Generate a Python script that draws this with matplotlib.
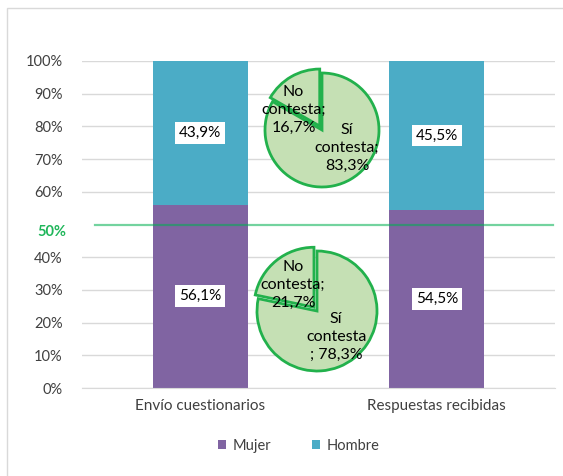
import matplotlib.pyplot as plt
from matplotlib.patches import Rectangle

# Colors
purple = "#8064A2"
teal = "#4BACC6"
pie_fill = "#C5E0B4"
pie_edge = "#22B14C"
green = "#00B050"
grid_color = "#D9D9D9"
text_color = "#404040"

plt.rcParams["font.family"] = ["Lato", "DejaVu Sans"]

# Data
categories = ["Envío cuestionarios", "Respuestas recibidas"]
mujer = [56.1, 54.5]
hombre = [43.9, 45.5]
mujer_labels = ["56,1%", "54,5%"]
hombre_labels = ["43,9%", "45,5%"]

pie_top_values = [16.7, 83.3]
pie_top_labels = ["No\ncontesta;\n16,7%", "Sí\ncontesta;\n83,3%"]
pie_bottom_values = [21.7, 78.3]
pie_bottom_labels = ["No\ncontesta;\n21,7%", "Sí\ncontesta\n; 78,3%"]

yticks = [0, 10, 20, 30, 40, 60, 70, 80, 90, 100]

W, H = 563, 476
fig = plt.figure(figsize=(W / 100, H / 100), dpi=100, facecolor="white")

# Outer chart border (left/top visible)
fig.patches.append(Rectangle((7 / W, -0.1), 1.2, 1 - 8 / H + 0.1, transform=fig.transFigure,
                             fill=False, edgecolor=grid_color, linewidth=1))

ax = fig.add_axes([82 / W, 88 / H, 473 / W, 327 / H])
x = range(len(categories))
b1 = ax.bar(x, mujer, width=0.4, color=purple, label="Mujer", zorder=2)
b2 = ax.bar(x, hombre, width=0.4, bottom=mujer, color=teal, label="Hombre", zorder=2)

ax.set_xlim(-0.5, 1.5)
ax.set_ylim(0, 100)
ax.set_yticks(yticks)
ax.set_yticklabels([f"{v}%" for v in yticks], fontsize=10.5, color=text_color)
ax.set_xticks(list(x))
ax.set_xticklabels(categories, fontsize=11, color=text_color)
ax.tick_params(axis="y", length=0, pad=14)
ax.tick_params(axis="x", length=0, pad=8)
ax.yaxis.grid(True, color=grid_color, linewidth=1, zorder=0)
ax.set_axisbelow(True)
for side in ["left", "right", "top"]:
    ax.spines[side].set_visible(False)
ax.spines["bottom"].set_color(grid_color)

# Value labels in white boxes
for i in x:
    for yv, txt in [(mujer[i] / 2, mujer_labels[i]), (mujer[i] + hombre[i] / 2, hombre_labels[i])]:
        ax.text(i, yv, txt, ha="center", va="center", fontsize=11, color="black", zorder=4,
                bbox=dict(boxstyle="square,pad=0.25", facecolor="white", edgecolor="none"))

# 50% reference line and label
ax.plot([-0.445, 1.49], [50, 50], color=green, alpha=0.55, linewidth=1.6, zorder=3, clip_on=False)
ax.text(-0.565, 47.6, "50%", ha="right", va="center", fontsize=10.5, fontweight="bold",
        color="#1FB65A")

# Legend
fig.legend(handles=[b1, b2], loc="center", bbox_to_anchor=(0.53, 1 - 446 / H), ncol=2,
           frameon=False, fontsize=10.5, handlelength=0.6, handleheight=0.6,
           columnspacing=2.8, handletextpad=0.4, labelcolor=text_color)


def add_pie(cx, cy, r, values, labels, explode, label_pos):
    half = 1.2
    pax = fig.add_axes([(cx - half * r) / W, 1 - (cy + half * r) / H, 2 * half * r / W, 2 * half * r / H])
    pax.pie(values, startangle=90, counterclock=True, explode=[explode, 0],
            colors=[pie_fill, pie_fill],
            wedgeprops=dict(edgecolor=pie_edge, linewidth=2))
    pax.set_xlim(-half, half)
    pax.set_ylim(-half, half)
    pax.set_aspect("equal")
    pax.axis("off")
    for (tx, ty), lab in zip(label_pos, labels):
        pax.text(tx, ty, lab, ha="center", va="center", fontsize=11.5, color="black",
                 linespacing=1.35)


add_pie(322, 130, 57, pie_top_values, pie_top_labels, 0.08, [(-0.5, 0.35), (0.44, -0.32)])
add_pie(317, 311, 60, pie_bottom_values, pie_bottom_labels, 0.08, [(-0.4, 0.43), (0.32, -0.43)])

fig.savefig("out.png", dpi=100, facecolor="white")
